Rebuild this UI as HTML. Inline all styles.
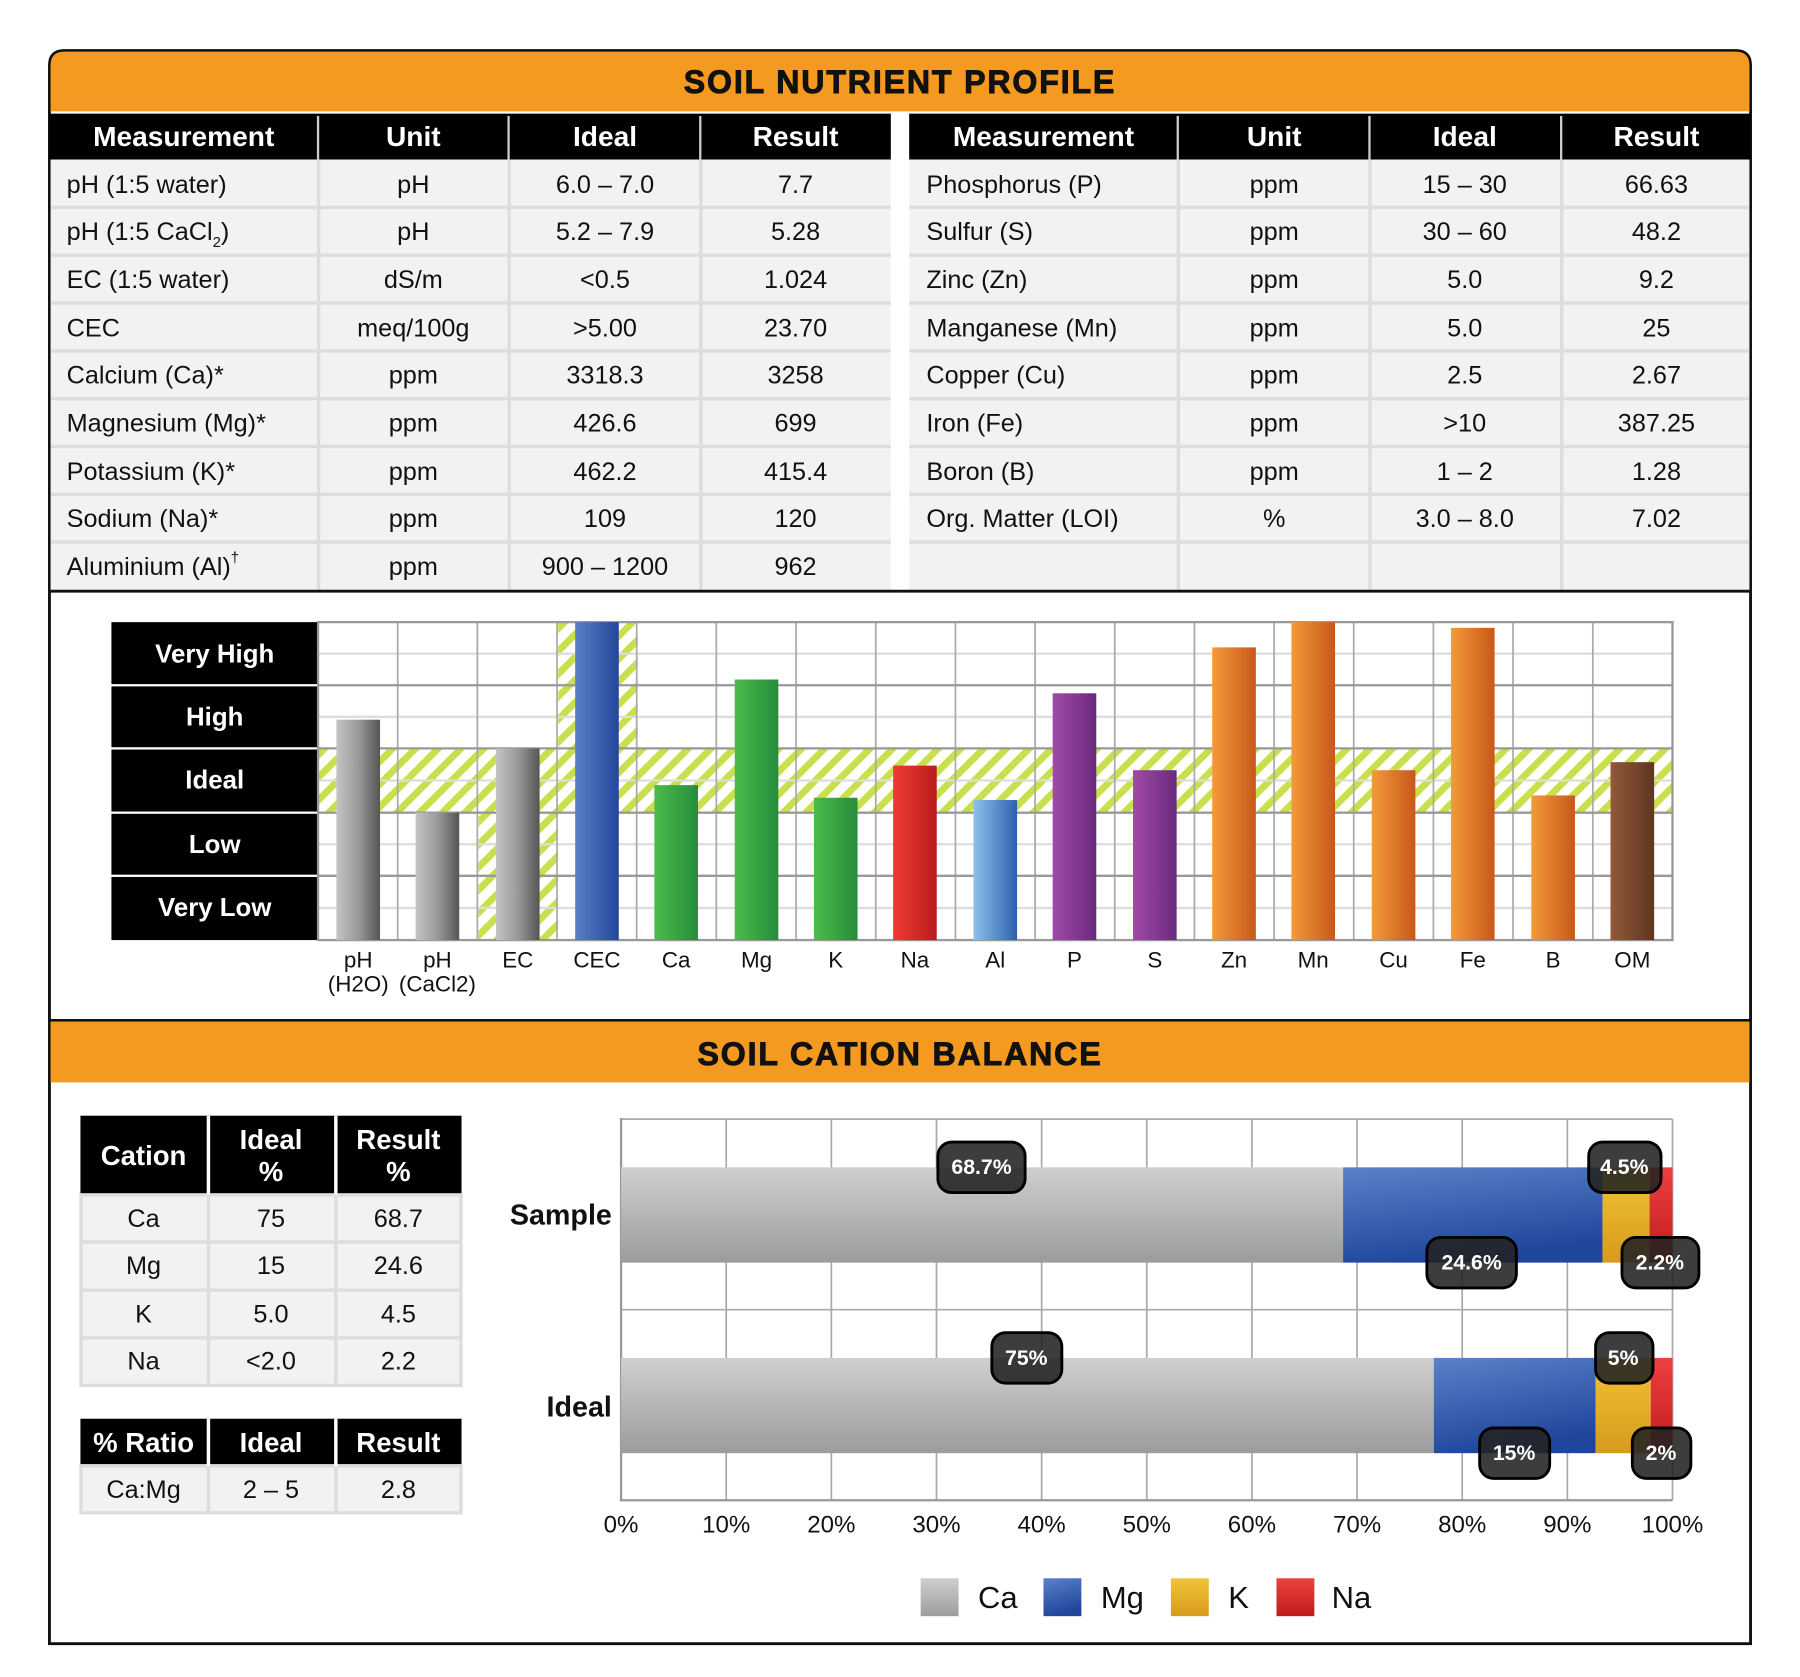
<!DOCTYPE html>
<html><head><meta charset="utf-8"><style>
html,body{margin:0;padding:0;background:#fff;}
svg{display:block;}
text{font-family:"Liberation Sans",Arial,sans-serif;}
</style></head><body>
<svg width="1800" height="1677" viewBox="0 0 1568 1461" xmlns="http://www.w3.org/2000/svg">
<defs>
<pattern id="hatch" width="14" height="14" patternUnits="userSpaceOnUse" patternTransform="rotate(45)">
<rect width="14" height="14" fill="#fff"/><rect width="6" height="14" fill="#c9df4c"/>
</pattern>
<linearGradient id="gGray" x1="0" x2="1"><stop offset="0" stop-color="#c4c4c4"/><stop offset="0.5" stop-color="#9a9a9a"/><stop offset="1" stop-color="#555"/></linearGradient>
<linearGradient id="gBlue" x1="0" x2="1"><stop offset="0" stop-color="#5a80c8"/><stop offset="1" stop-color="#22479a"/></linearGradient>
<linearGradient id="gGreen" x1="0" x2="1"><stop offset="0" stop-color="#4cbb4c"/><stop offset="1" stop-color="#248c3c"/></linearGradient>
<linearGradient id="gRed" x1="0" x2="1"><stop offset="0" stop-color="#ef3a36"/><stop offset="1" stop-color="#b81c1c"/></linearGradient>
<linearGradient id="gLBlue" x1="0" x2="1"><stop offset="0" stop-color="#8cc2ea"/><stop offset="1" stop-color="#2f5fae"/></linearGradient>
<linearGradient id="gPurple" x1="0" x2="1"><stop offset="0" stop-color="#a04aa8"/><stop offset="1" stop-color="#6a2a7c"/></linearGradient>
<linearGradient id="gOrange" x1="0" x2="1"><stop offset="0" stop-color="#f39a3a"/><stop offset="1" stop-color="#c8581a"/></linearGradient>
<linearGradient id="gBrown" x1="0" x2="1"><stop offset="0" stop-color="#93593a"/><stop offset="1" stop-color="#5e3620"/></linearGradient>
<linearGradient id="hCa" x1="0" y1="0" x2="0" y2="1"><stop offset="0" stop-color="#cfcfcf"/><stop offset="1" stop-color="#9c9c9c"/></linearGradient>
<linearGradient id="hMg" x1="0" y1="0" x2="0.3" y2="1"><stop offset="0" stop-color="#5a82c8"/><stop offset="1" stop-color="#1f469c"/></linearGradient>
<linearGradient id="hK" x1="0" y1="0" x2="0" y2="1"><stop offset="0" stop-color="#f0c436"/><stop offset="1" stop-color="#d89a1c"/></linearGradient>
<linearGradient id="hNa" x1="0" y1="0" x2="0" y2="1"><stop offset="0" stop-color="#ee4040"/><stop offset="1" stop-color="#c01c1c"/></linearGradient>
</defs>

<path d="M43,1432 L43,57 Q43,44 56,44 L1512,44 Q1525,44 1525,57 L1525,1432 Z" fill="#fff" stroke="#111" stroke-width="2.5"/>
<path d="M44,97 L44,57 Q44,45 56,45 L1512,45 Q1524,45 1524,57 L1524,97 Z" fill="#f59a20"/>
<text x="784" y="81" font-size="28" font-weight="bold" text-anchor="middle" fill="#111" letter-spacing="1.6" stroke="#111" stroke-width="0.8">SOIL NUTRIENT PROFILE</text>

<g>
<rect x="43" y="99" width="733" height="40" fill="#000"/>
<rect x="792" y="99" width="733" height="40" fill="#000"/>
<rect x="44" y="139" width="732" height="375" fill="#f2f2f2"/>
<rect x="792" y="139" width="732" height="375" fill="#f2f2f2"/>
<g stroke="#ddd" stroke-width="3">
<line x1="44" y1="180.7" x2="776" y2="180.7"/><line x1="44" y1="222.3" x2="776" y2="222.3"/><line x1="44" y1="264" x2="776" y2="264"/><line x1="44" y1="305.7" x2="776" y2="305.7"/><line x1="44" y1="347.3" x2="776" y2="347.3"/><line x1="44" y1="389" x2="776" y2="389"/><line x1="44" y1="430.7" x2="776" y2="430.7"/><line x1="44" y1="472.3" x2="776" y2="472.3"/>
<line x1="792" y1="180.7" x2="1524" y2="180.7"/><line x1="792" y1="222.3" x2="1524" y2="222.3"/><line x1="792" y1="264" x2="1524" y2="264"/><line x1="792" y1="305.7" x2="1524" y2="305.7"/><line x1="792" y1="347.3" x2="1524" y2="347.3"/><line x1="792" y1="389" x2="1524" y2="389"/><line x1="792" y1="430.7" x2="1524" y2="430.7"/><line x1="792" y1="472.3" x2="1524" y2="472.3"/>
<line x1="277.5" y1="139" x2="277.5" y2="514"/><line x1="443.5" y1="139" x2="443.5" y2="514"/><line x1="610.5" y1="139" x2="610.5" y2="514"/>
<line x1="1026.5" y1="139" x2="1026.5" y2="514"/><line x1="1193.5" y1="139" x2="1193.5" y2="514"/><line x1="1360.5" y1="139" x2="1360.5" y2="514"/>
</g>
<g stroke="#ccc" stroke-width="2">
<line x1="277" y1="101" x2="277" y2="139"/><line x1="443" y1="101" x2="443" y2="139"/><line x1="610" y1="101" x2="610" y2="139"/>
<line x1="1026" y1="101" x2="1026" y2="139"/><line x1="1193" y1="101" x2="1193" y2="139"/><line x1="1360" y1="101" x2="1360" y2="139"/>
</g>
<g font-size="24.5" font-weight="bold" fill="#fff" text-anchor="middle">
<text x="160" y="127">Measurement</text><text x="360" y="127">Unit</text><text x="527" y="127">Ideal</text><text x="693" y="127">Result</text>
<text x="909" y="127">Measurement</text><text x="1110" y="127">Unit</text><text x="1276" y="127">Ideal</text><text x="1443" y="127">Result</text>
</g>
<g font-size="22" fill="#111">
<text x="58" y="168">pH (1:5 water)</text>
<text x="58" y="209">pH (1:5 CaCl<tspan font-size="13" dy="6">2</tspan><tspan dy="-6">)</tspan></text>
<text x="58" y="251">EC (1:5 water)</text>
<text x="58" y="293">CEC</text>
<text x="58" y="334">Calcium (Ca)*</text>
<text x="58" y="376">Magnesium (Mg)*</text>
<text x="58" y="418">Potassium (K)*</text>
<text x="58" y="459">Sodium (Na)*</text>
<text x="58" y="501">Aluminium (Al)<tspan font-size="13" dy="-11">†</tspan></text>
<text x="807" y="168">Phosphorus (P)</text>
<text x="807" y="209">Sulfur (S)</text>
<text x="807" y="251">Zinc (Zn)</text>
<text x="807" y="293">Manganese (Mn)</text>
<text x="807" y="334">Copper (Cu)</text>
<text x="807" y="376">Iron (Fe)</text>
<text x="807" y="418">Boron (B)</text>
<text x="807" y="459">Org. Matter (LOI)</text>
</g>
<g font-size="22" fill="#111" text-anchor="middle">
<text x="360" y="168">pH</text><text x="527" y="168">6.0 – 7.0</text><text x="693" y="168">7.7</text>
<text x="360" y="209">pH</text><text x="527" y="209">5.2 – 7.9</text><text x="693" y="209">5.28</text>
<text x="360" y="251">dS/m</text><text x="527" y="251">&lt;0.5</text><text x="693" y="251">1.024</text>
<text x="360" y="293">meq/100g</text><text x="527" y="293">&gt;5.00</text><text x="693" y="293">23.70</text>
<text x="360" y="334">ppm</text><text x="527" y="334">3318.3</text><text x="693" y="334">3258</text>
<text x="360" y="376">ppm</text><text x="527" y="376">426.6</text><text x="693" y="376">699</text>
<text x="360" y="418">ppm</text><text x="527" y="418">462.2</text><text x="693" y="418">415.4</text>
<text x="360" y="459">ppm</text><text x="527" y="459">109</text><text x="693" y="459">120</text>
<text x="360" y="501">ppm</text><text x="527" y="501">900 – 1200</text><text x="693" y="501">962</text>
<text x="1110" y="168">ppm</text><text x="1276" y="168">15 – 30</text><text x="1443" y="168">66.63</text>
<text x="1110" y="209">ppm</text><text x="1276" y="209">30 – 60</text><text x="1443" y="209">48.2</text>
<text x="1110" y="251">ppm</text><text x="1276" y="251">5.0</text><text x="1443" y="251">9.2</text>
<text x="1110" y="293">ppm</text><text x="1276" y="293">5.0</text><text x="1443" y="293">25</text>
<text x="1110" y="334">ppm</text><text x="1276" y="334">2.5</text><text x="1443" y="334">2.67</text>
<text x="1110" y="376">ppm</text><text x="1276" y="376">&gt;10</text><text x="1443" y="376">387.25</text>
<text x="1110" y="418">ppm</text><text x="1276" y="418">1 – 2</text><text x="1443" y="418">1.28</text>
<text x="1110" y="459">%</text><text x="1276" y="459">3.0 – 8.0</text><text x="1443" y="459">7.02</text>
</g>
</g>
<line x1="43" y1="515" x2="1525" y2="515" stroke="#111" stroke-width="2.5"/>

<g>
<rect x="97" y="542" width="180" height="54" fill="#000"/>
<rect x="97" y="598" width="180" height="53" fill="#000"/>
<rect x="97" y="653" width="180" height="54" fill="#000"/>
<rect x="97" y="709" width="180" height="53" fill="#000"/>
<rect x="97" y="764" width="180" height="55" fill="#000"/>
<g font-size="22.5" font-weight="bold" fill="#fff" text-anchor="middle">
<text x="187" y="577">Very High</text><text x="187" y="632">High</text><text x="187" y="687">Ideal</text><text x="187" y="743">Low</text><text x="187" y="798">Very Low</text>
</g>
<rect x="277" y="652" width="1180" height="56" fill="url(#hatch)"/>
<rect x="416.8" y="708" width="69.4" height="111" fill="url(#hatch)"/>
<rect x="486.2" y="542" width="69.4" height="110" fill="url(#hatch)"/>
<g stroke="#ddd" stroke-width="2">
<line x1="277" y1="569.5" x2="1457" y2="569.5"/><line x1="277" y1="624.5" x2="1457" y2="624.5"/><line x1="277" y1="680" x2="1457" y2="680"/><line x1="277" y1="735.5" x2="1457" y2="735.5"/><line x1="277" y1="791" x2="1457" y2="791"/>
</g>
<g stroke="#aaa" stroke-width="1.5">
<line x1="346.4" y1="542" x2="346.4" y2="819"/><line x1="415.8" y1="542" x2="415.8" y2="819"/><line x1="485.2" y1="542" x2="485.2" y2="819"/><line x1="554.6" y1="542" x2="554.6" y2="819"/><line x1="624" y1="542" x2="624" y2="819"/><line x1="693.5" y1="542" x2="693.5" y2="819"/><line x1="762.9" y1="542" x2="762.9" y2="819"/><line x1="832.3" y1="542" x2="832.3" y2="819"/><line x1="901.7" y1="542" x2="901.7" y2="819"/><line x1="971.1" y1="542" x2="971.1" y2="819"/><line x1="1040.5" y1="542" x2="1040.5" y2="819"/><line x1="1109.9" y1="542" x2="1109.9" y2="819"/><line x1="1179.3" y1="542" x2="1179.3" y2="819"/><line x1="1248.7" y1="542" x2="1248.7" y2="819"/><line x1="1318.1" y1="542" x2="1318.1" y2="819"/><line x1="1387.6" y1="542" x2="1387.6" y2="819"/>
</g>
<g stroke="#999" stroke-width="2" fill="none">
<rect x="277" y="542" width="1180" height="277"/>
<line x1="277" y1="597" x2="1457" y2="597"/><line x1="277" y1="652" x2="1457" y2="652"/><line x1="277" y1="708" x2="1457" y2="708"/><line x1="277" y1="763" x2="1457" y2="763"/>
</g>
<rect x="293" y="627" width="38" height="192" fill="url(#gGray)"/>
<rect x="362" y="708" width="38" height="111" fill="url(#gGray)"/>
<rect x="432" y="652" width="38" height="167" fill="url(#gGray)"/>
<rect x="501" y="542" width="38" height="277" fill="url(#gBlue)"/>
<rect x="570" y="684" width="38" height="135" fill="url(#gGreen)"/>
<rect x="640" y="592" width="38" height="227" fill="url(#gGreen)"/>
<rect x="709" y="695" width="38" height="124" fill="url(#gGreen)"/>
<rect x="778" y="667" width="38" height="152" fill="url(#gRed)"/>
<rect x="848" y="697" width="38" height="122" fill="url(#gLBlue)"/>
<rect x="917" y="604" width="38" height="215" fill="url(#gPurple)"/>
<rect x="987" y="671" width="38" height="148" fill="url(#gPurple)"/>
<rect x="1056" y="564" width="38" height="255" fill="url(#gOrange)"/>
<rect x="1125" y="542" width="38" height="277" fill="url(#gOrange)"/>
<rect x="1195" y="671" width="38" height="148" fill="url(#gOrange)"/>
<rect x="1264" y="547" width="38" height="272" fill="url(#gOrange)"/>
<rect x="1334" y="693" width="38" height="126" fill="url(#gOrange)"/>
<rect x="1403" y="664" width="38" height="155" fill="url(#gBrown)"/>
<g font-size="19.5" fill="#111" text-anchor="middle">
<text x="312" y="843">pH</text><text x="312" y="864">(H2O)</text>
<text x="381" y="843">pH</text><text x="381" y="864">(CaCl2)</text>
<text x="451" y="843">EC</text><text x="520" y="843">CEC</text><text x="589" y="843">Ca</text><text x="659" y="843">Mg</text><text x="728" y="843">K</text><text x="797" y="843">Na</text><text x="867" y="843">Al</text><text x="936" y="843">P</text><text x="1006" y="843">S</text><text x="1075" y="843">Zn</text><text x="1144" y="843">Mn</text><text x="1214" y="843">Cu</text><text x="1283" y="843">Fe</text><text x="1353" y="843">B</text><text x="1422" y="843">OM</text>
</g>
</g>
<line x1="43" y1="889" x2="1525" y2="889" stroke="#111" stroke-width="2.5"/>
<rect x="44" y="890" width="1480" height="53" fill="#f59a20"/>
<text x="784" y="928" font-size="28" font-weight="bold" text-anchor="middle" fill="#111" letter-spacing="1.6" stroke="#111" stroke-width="0.8">SOIL CATION BALANCE</text>

<g>
<rect x="70" y="972" width="332" height="69" fill="#000"/>
<rect x="70" y="1041" width="332" height="166" fill="#f2f2f2"/>
<rect x="70" y="1236" width="332" height="41" fill="#000"/>
<rect x="70" y="1277" width="332" height="41" fill="#f2f2f2"/>
<g stroke="#ddd" stroke-width="3" fill="none">
<line x1="70" y1="1082" x2="402" y2="1082"/><line x1="70" y1="1124" x2="402" y2="1124"/><line x1="70" y1="1165.5" x2="402" y2="1165.5"/>
<line x1="181.5" y1="1041" x2="181.5" y2="1207"/><line x1="292.5" y1="1041" x2="292.5" y2="1207"/>
<line x1="181.5" y1="1277" x2="181.5" y2="1318"/><line x1="292.5" y1="1277" x2="292.5" y2="1318"/>
<rect x="70.5" y="1041" width="331" height="166"/><rect x="70.5" y="1277" width="331" height="41"/>
</g>
<g stroke="#fff" stroke-width="3">
<line x1="181.5" y1="972" x2="181.5" y2="1041"/><line x1="292.5" y1="972" x2="292.5" y2="1041"/>
<line x1="181.5" y1="1236" x2="181.5" y2="1277"/><line x1="292.5" y1="1236" x2="292.5" y2="1277"/>
</g>
<g font-size="24" font-weight="bold" fill="#fff" text-anchor="middle">
<text x="125" y="1015">Cation</text><text x="236" y="1001">Ideal</text><text x="236" y="1029">%</text><text x="347" y="1001">Result</text><text x="347" y="1029">%</text>
<text x="125" y="1265">% Ratio</text><text x="236" y="1265">Ideal</text><text x="347" y="1265">Result</text>
</g>
<g font-size="22" fill="#111" text-anchor="middle">
<text x="125" y="1069">Ca</text><text x="236" y="1069">75</text><text x="347" y="1069">68.7</text>
<text x="125" y="1110">Mg</text><text x="236" y="1110">15</text><text x="347" y="1110">24.6</text>
<text x="125" y="1152">K</text><text x="236" y="1152">5.0</text><text x="347" y="1152">4.5</text>
<text x="125" y="1193">Na</text><text x="236" y="1193">&lt;2.0</text><text x="347" y="1193">2.2</text>
<text x="125" y="1305">Ca:Mg</text><text x="236" y="1305">2 – 5</text><text x="347" y="1305">2.8</text>
</g>
</g>

<g>
<g stroke="#aaa" stroke-width="1.5">
<line x1="632.6" y1="975" x2="632.6" y2="1307"/><line x1="724.2" y1="975" x2="724.2" y2="1307"/><line x1="815.8" y1="975" x2="815.8" y2="1307"/><line x1="907.4" y1="975" x2="907.4" y2="1307"/><line x1="999" y1="975" x2="999" y2="1307"/><line x1="1090.6" y1="975" x2="1090.6" y2="1307"/><line x1="1182.2" y1="975" x2="1182.2" y2="1307"/><line x1="1273.8" y1="975" x2="1273.8" y2="1307"/><line x1="1365.4" y1="975" x2="1365.4" y2="1307"/><line x1="1457" y1="975" x2="1457" y2="1307"/>
<line x1="541" y1="975" x2="1457" y2="975"/><line x1="541" y1="1141" x2="1457" y2="1141"/>
</g>
<line x1="541" y1="974" x2="541" y2="1308" stroke="#999" stroke-width="2"/>
<line x1="540" y1="1307" x2="1457" y2="1307" stroke="#999" stroke-width="2"/>
<rect x="541" y="1017" width="629" height="83" fill="url(#hCa)"/>
<rect x="1170" y="1017" width="226" height="83" fill="url(#hMg)"/>
<rect x="1396" y="1017" width="41" height="83" fill="url(#hK)"/>
<rect x="1437" y="1017" width="20" height="83" fill="url(#hNa)"/>
<rect x="541" y="1183" width="708" height="83" fill="url(#hCa)"/>
<rect x="1249" y="1183" width="141" height="83" fill="url(#hMg)"/>
<rect x="1390" y="1183" width="48" height="83" fill="url(#hK)"/>
<rect x="1438" y="1183" width="19" height="83" fill="url(#hNa)"/>
<g fill="#222" fill-opacity="0.88" stroke="#000" stroke-width="2.5">
<rect x="817" y="995" width="76" height="44" rx="12"/>
<rect x="1384" y="995" width="63" height="44" rx="12"/>
<rect x="1243" y="1078" width="78" height="44" rx="12"/>
<rect x="1413" y="1078" width="67" height="44" rx="12"/>
<rect x="864" y="1161" width="61" height="44" rx="12"/>
<rect x="1390" y="1161" width="50" height="44" rx="12"/>
<rect x="1289" y="1244" width="61" height="44" rx="12"/>
<rect x="1422" y="1244" width="51" height="44" rx="12"/>
</g>
<g font-size="18.5" font-weight="bold" fill="#fff" text-anchor="middle">
<text x="855" y="1023">68.7%</text><text x="1415" y="1023">4.5%</text><text x="1282" y="1106">24.6%</text><text x="1446" y="1106">2.2%</text>
<text x="894" y="1189">75%</text><text x="1414" y="1189">5%</text><text x="1319" y="1272">15%</text><text x="1447" y="1272">2%</text>
</g>
<g font-size="25" font-weight="bold" fill="#111" text-anchor="end">
<text x="533" y="1067">Sample</text><text x="533" y="1234">Ideal</text>
</g>
<g font-size="21" fill="#111" text-anchor="middle">
<text x="541" y="1335">0%</text><text x="632.6" y="1335">10%</text><text x="724.2" y="1335">20%</text><text x="815.8" y="1335">30%</text><text x="907.4" y="1335">40%</text><text x="999" y="1335">50%</text><text x="1090.6" y="1335">60%</text><text x="1182.2" y="1335">70%</text><text x="1273.8" y="1335">80%</text><text x="1365.4" y="1335">90%</text><text x="1457" y="1335">100%</text>
</g>
<rect x="802" y="1375" width="33" height="33" fill="url(#hCa)"/>
<rect x="909" y="1375" width="33" height="33" fill="url(#hMg)"/>
<rect x="1020" y="1375" width="33" height="33" fill="url(#hK)"/>
<rect x="1112" y="1375" width="33" height="33" fill="url(#hNa)"/>
<g font-size="27" fill="#111">
<text x="852" y="1401">Ca</text><text x="959" y="1401">Mg</text><text x="1070" y="1401">K</text><text x="1160" y="1401">Na</text>
</g>
</g>
</svg>
</body></html>
